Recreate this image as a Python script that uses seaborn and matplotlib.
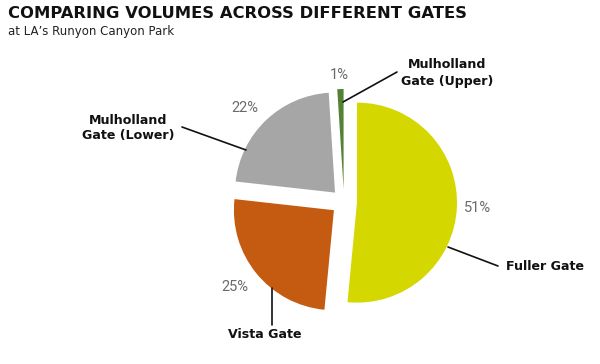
import matplotlib
matplotlib.use('Agg')
import matplotlib.pyplot as plt
import seaborn as sns

# data
gates = ['Fuller Gate', 'Vista Gate', 'Mulholland\nGate (Lower)', 'Mulholland\nGate (Upper)']
shares = [51, 25, 22, 1]
colors = ['#d5d700', '#c55a11', '#a6a6a6', '#548235']

sns.set_theme(style='white')
plt.rcParams['font.family'] = ['DejaVu Sans']

W, H = 600, 364
fig = plt.figure(figsize=(6, 3.64), dpi=100)
ax = fig.add_axes([0, 0, 1, 1])
ax.set_xlim(0, W)
ax.set_ylim(0, H)
ax.set_aspect('equal')
ax.axis('off')

def py(y):
    # pixel row from top -> data y
    return H - y

# pie, clockwise from the top, every slice pulled out
# (explode is in data units here since radius is in pixels)
ax.pie(shares, colors=colors, startangle=90, counterclock=False,
       explode=[13] * len(shares), radius=100, center=(344, py(202)),
       wedgeprops=dict(linewidth=0))
ax.set_xlim(0, W)
ax.set_ylim(0, H)

# percentage labels
pct_pos = [(478, 208), (235, 287), (245, 108), (339, 75)]
for v, (x, y) in zip(shares, pct_pos):
    ax.text(x, py(y), f'{v}%', ha='center', va='center', fontsize=10.5,
            color='#6a6a6a', family='Roboto', fontweight='normal')

# category labels with leader lines
lab_pos = [(506, 267, 'left'), (265, 335, 'center'), (128, 128, 'center'), (447, 73, 'center')]
lines = [((448, 247), (498, 266)), ((272, 288), (272, 325)),
         ((246, 150), (182, 127)), ((343, 102), (397, 72))]
for g, (x, y, ha), (p0, p1) in zip(gates, lab_pos, lines):
    ax.text(x, py(y), g, ha=ha, va='center', fontsize=9.1, fontweight='bold',
            color='#111111', linespacing=1.3, multialignment='center')
    ax.plot([p0[0], p1[0]], [py(p0[1]), py(p1[1])], color='#111111', lw=1.2)

# titles
fig.text(8 / W, 1 - 14 / H, 'COMPARING VOLUMES ACROSS DIFFERENT GATES',
         ha='left', va='center', fontsize=11.8, fontweight='heavy', color='#111111')
fig.text(8 / W, 1 - 32 / H, 'at LA’s Runyon Canyon Park',
         ha='left', va='center', fontsize=8.5, color='#222222')

fig.savefig('out.png', dpi=100)
